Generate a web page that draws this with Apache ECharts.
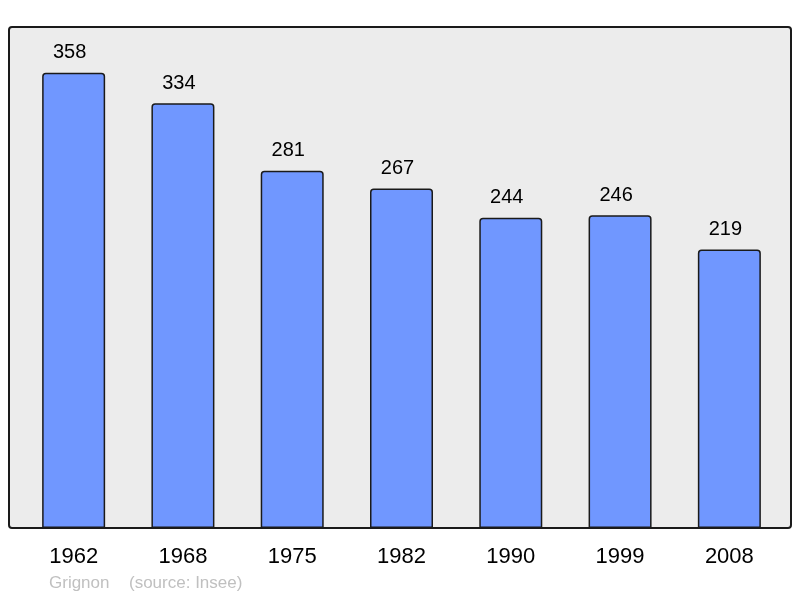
<!DOCTYPE html>
<html>
<head>
<meta charset="utf-8">
<script src="https://cdn.jsdelivr.net/npm/echarts@6/dist/echarts.min.js"></script>
<style>
  html, body { margin: 0; padding: 0; background: #fff; }
  #main { width: 800px; height: 598px; }
</style>
</head>
<body>
<div id="main"></div>
<script>
var years = ["1962", "1968", "1975", "1982", "1990", "1999", "2008"];
var population = [358, 334, 281, 267, 244, 246, 219];
var townName = "Grignon";
var sourceText = "(source: Insee)";

var myChart = echarts.init(document.getElementById("main"));
var option = {
  animation: false,
  backgroundColor: "#ffffff",
  graphic: [
    {
      type: "rect",
      z: -10,
      shape: { x: 9, y: 27, width: 782, height: 501, r: 3 },
      style: { fill: "#ececec", stroke: "#1a1a1a", lineWidth: 2 }
    },
    {
      type: "text",
      left: 49,
      top: 575,
      style: { text: townName, fill: "#c0c0c0", font: "17px 'Liberation Sans', Arial, sans-serif" }
    },
    {
      type: "text",
      left: 129,
      top: 575,
      style: { text: sourceText, fill: "#c0c0c0", font: "17px 'Liberation Sans', Arial, sans-serif" }
    }
  ],
  grid: { left: 19, right: 16, top: 27, bottom: 70, containLabel: false },
  xAxis: {
    type: "category",
    data: years,
    axisLine: { show: false },
    axisTick: { show: false },
    axisLabel: {
      margin: 18,
      fontSize: 22,
      color: "#000",
      fontFamily: "'Liberation Sans', Arial, sans-serif"
    }
  },
  yAxis: {
    type: "value",
    min: 0,
    max: 394,
    show: false,
    splitLine: { show: false }
  },
  series: [
    {
      type: "bar",
      data: population,
      barWidth: 63,
      itemStyle: {
        color: "#7097ff",
        borderColor: "#1a1a1a",
        borderWidth: 1.5,
        borderRadius: [3, 3, 0, 0]
      },
      label: {
        show: true,
        position: "top",
        distance: 10,
        offset: [-4, 0],
        fontSize: 20,
        color: "#000",
        fontFamily: "'Liberation Sans', Arial, sans-serif"
      }
    }
  ]
};
myChart.setOption(option);
</script>
</body>
</html>
